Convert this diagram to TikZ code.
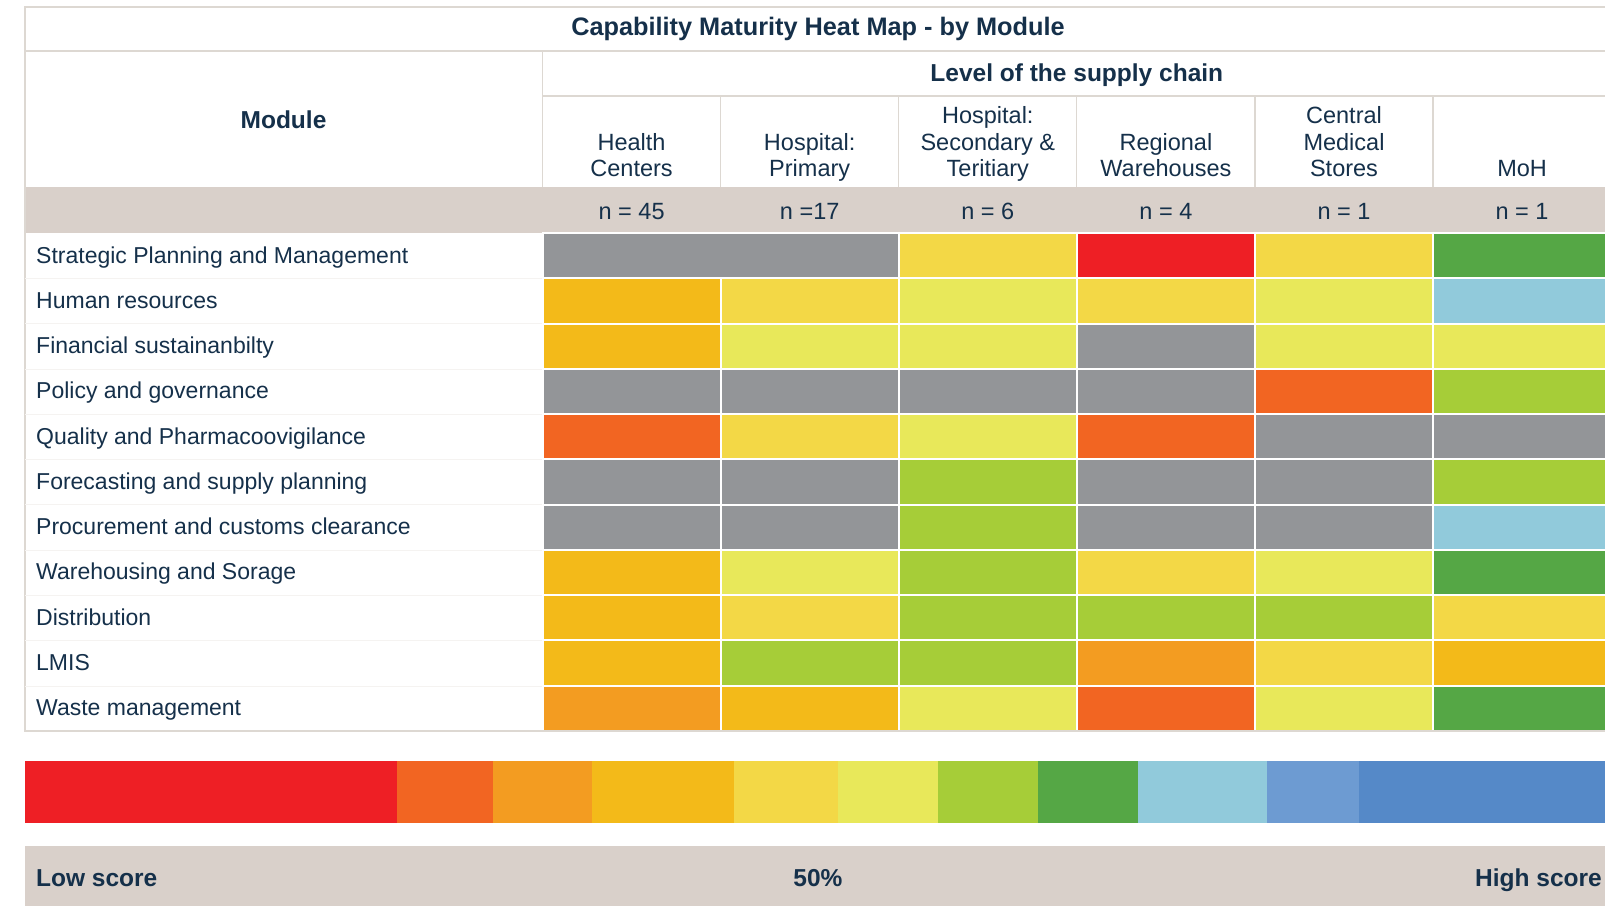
\documentclass[tikz,border=0pt]{standalone}
\usepackage{fontspec}
\setmainfont{Liberation Sans}

\definecolor{navy}{HTML}{15304A}
\definecolor{rule}{HTML}{DDD8D2}
\definecolor{band}{HTML}{D9D0CA}
\definecolor{gy}{HTML}{939598}
\definecolor{rd}{HTML}{EE1F25}
\definecolor{ord}{HTML}{F26522}
\definecolor{og}{HTML}{F39C21}
\definecolor{am}{HTML}{F3BA19}
\definecolor{yl}{HTML}{F3D846}
\definecolor{ly}{HTML}{E8E85A}
\definecolor{yg}{HTML}{A6CD38}
\definecolor{gn}{HTML}{55A745}
\definecolor{lb}{HTML}{91CADB}
\definecolor{mb}{HTML}{6D9BD2}
\definecolor{bl}{HTML}{5589C8}

\tikzset{
  headtxt/.style={font=\fontsize{24.5}{28}\selectfont\bfseries, text=navy, inner sep=0pt, anchor=base},
  coltxt/.style={font=\fontsize{23.5}{26.7}\selectfont, text=navy, align=center, inner sep=0pt, text depth=0pt, anchor=south},
  ntxt/.style={font=\fontsize{23.5}{26.7}\selectfont, text=navy, inner sep=0pt, anchor=base},
  rowtxt/.style={font=\fontsize{23}{26}\selectfont, text=navy, inner sep=0pt, anchor=base west},
  cellbox/.style={draw=white, line width=2pt}
}

\begin{document}
\begin{tikzpicture}[x=1pt,y=-1pt]
	\useasboundingbox (0,0) rectangle (1605,906);
	\clip (0,0) rectangle (1605,906);
	\fill[white] (0,0) rectangle (1605,906);

	\fill[band] (25,187) rectangle (1611,233);
	\draw[rule,line width=1.2pt] (25,7) rectangle (1611,731);
	\draw[rule,line width=1.2pt] (25,51) -- (1611,51);
	\draw[rule,line width=1.2pt] (542.5,96) -- (1611,96);
	\draw[rule,line width=1.2pt] (542.5,51) -- (542.5,187);
	\foreach \c in {1,...,5}
		\draw[rule,line width=1.2pt] ({542.5+178.1*\c},96) -- ({542.5+178.1*\c},187);
	\foreach \r in {1,...,10}
		\draw[rule!30] (25,{233+45.27*\r}) -- (542.5,{233+45.27*\r});

	\foreach \r/\ca/\cb/\cc/\cd/\ce/\cf in {
		0/gy/gy/yl/rd/yl/gn,
		1/am/yl/ly/yl/ly/lb,
		2/am/ly/ly/gy/ly/ly,
		3/gy/gy/gy/gy/ord/yg,
		4/ord/yl/ly/ord/gy/gy,
		5/gy/gy/yg/gy/gy/yg,
		6/gy/gy/yg/gy/gy/lb,
		7/am/ly/yg/yl/ly/gn,
		8/am/yl/yg/yg/yg/yl,
		9/am/yg/yg/og/yl/am,
		10/og/am/ly/ord/ly/gn}
	{
		\foreach \c/\k in {0/\ca,1/\cb,2/\cc,3/\cd,4/\ce,5/\cf}
			\filldraw[cellbox,fill=\k] ({542.5+178.1*\c},{233+45.27*\r}) rectangle +(178.1,45.27);
	}
	\filldraw[cellbox,fill=gy] (542.5,233) rectangle +(356.2,45.27);
	\draw[rule,line width=1.2pt] (25,731) -- (1611,731);

	\node[headtxt,font=\fontsize{25.3}{28}\selectfont\bfseries] (title) at (818,35) {Capability Maturity Heat Map - by Module};
	\node[headtxt] (module) at (283.5,128.5) {Module};
	\node[headtxt] (level) at (1076.8,81.7) {Level of the supply chain};

	\node[coltxt] (hc) at (631.6,177) {Health\\Centers};
	\node[coltxt] (hp) at (809.7,177) {Hospital:\\Primary};
	\node[coltxt] (hst) at (987.8,177) {Hospital:\\Secondary \&\\Teritiary};
	\node[coltxt] (rw) at (1165.9,177) {Regional\\Warehouses};
	\node[coltxt] (cms) at (1344,177) {Central\\Medical\\Stores};
	\node[coltxt] (moh) at (1522.1,177) {MoH};

	\node[ntxt] (nhc) at (631.6,219) {n = 45};
	\node[ntxt] (nhp) at (809.7,219) {n =17};
	\node[ntxt] (nhst) at (987.8,219) {n = 6};
	\node[ntxt] (nrw) at (1165.9,219) {n = 4};
	\node[ntxt] (ncms) at (1344,219) {n = 1};
	\node[ntxt] (nmoh) at (1522.1,219) {n = 1};

	\foreach \t [count=\i from 0] in {Strategic Planning and Management, Human resources, Financial sustainanbilty, Policy and governance, Quality and Pharmacoovigilance, Forecasting and supply planning, Procurement and customs clearance, Warehousing and Sorage, Distribution, LMIS, Waste management}
		\node[rowtxt] (row\i) at (36,{263+45.27*\i}) {\t};

	\foreach \a/\b/\k in {25/397/rd, 397/493/ord, 493/592/og, 592/734/am, 734/838/yl, 838/938/ly, 938/1038/yg, 1038/1138/gn, 1138/1267/lb, 1267/1359/mb, 1359/1611/bl}
		\fill[\k] (\a,761) rectangle (\b,823);

	\fill[band] (25,846) rectangle (1611,906);
	\node[headtxt,anchor=base west] (low) at (36,886) {Low score};
	\node[headtxt] (mid) at (818,886) {50\%};
	\node[headtxt,anchor=base east] (high) at (1602,886) {High score};
\end{tikzpicture}
\end{document}
